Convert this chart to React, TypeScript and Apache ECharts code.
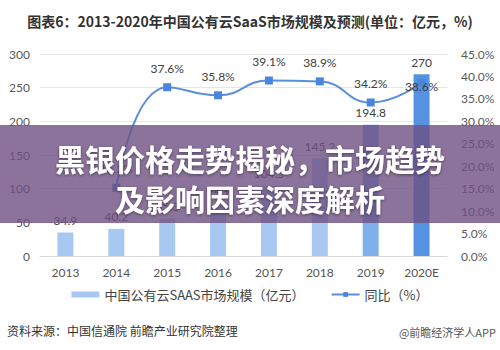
import React, { useEffect, useRef } from "react";
import * as echarts from "echarts";

const categories = ["2013", "2014", "2015", "2016", "2017", "2018", "2019", "2020E"];
const marketSize = [34.9, 40.2, 55.3, 75.1, 104.5, 145.2, 194.8, 270];
const growth: (number | null)[] = [null, 15.2, 37.6, 35.8, 39.1, 38.9, 34.2, 38.6];
const barColors = ["#a7c9f1", "#a7c9f1", "#a7c9f1", "#a7c9f1", "#a7c9f1", "#a7c9f1", "#7fb0ec", "#5592e2"];
const leftTicks = { min: 0, max: 300, interval: 50 };
const rightTicks = { min: 0, max: 45, interval: 5 };

const titleText = "图表6：2013-2020年中国公有云SaaS市场规模及预测(单位：亿元，%)";
const barName = "中国公有云SAAS市场规模（亿元）";
const lineName = "同比（%）";
const bannerLine1 = "黑银价格走势揭秘，市场趋势";
const bannerLine2 = "及影响因素深度解析";
const sourceText = "资料来源：中国信通院 前瞻产业研究院整理";
const brandText = "@前瞻经济学人APP";

const FONT = "Lato, 'Noto Sans CJK SC', sans-serif";
const CJK = "'Noto Sans CJK SC', sans-serif";

export default function App() {
  const ref = useRef<HTMLDivElement>(null);
  useEffect(() => {
    if (!ref.current) return;
    const chart = echarts.init(ref.current, undefined, { renderer: "svg" });
    const bannerText = (text: string, y: number) => ({
      type: "text",
      x: 250,
      y,
      z: 101,
      style: {
        text,
        fill: "#ffffff",
        fontSize: 30,
        fontWeight: "bold",
        fontFamily: CJK,
        align: "center",
        verticalAlign: "middle",
        textShadowColor: "rgba(0,0,0,0.45)",
        textShadowBlur: 3,
        textShadowOffsetY: 1,
      },
    });
    chart.setOption({
      animation: false,
      backgroundColor: "#ffffff",
      textStyle: { fontFamily: FONT },
      title: {
        text: titleText,
        left: "center",
        top: 9,
        textStyle: { fontSize: 14, fontWeight: "bold", color: "#333333", fontFamily: CJK },
      },
      grid: { left: 40, right: 53, top: 54, bottom: 94 },
      legend: {
        bottom: 44,
        left: "center",
        itemGap: 26,
        itemWidth: 28,
        itemHeight: 6,
        textStyle: { fontSize: 13, color: "#444444", fontFamily: CJK },
        data: [
          { name: barName, icon: "rect", itemStyle: { color: "#a7c9f1" } },
          { name: lineName },
        ],
      },
      xAxis: {
        type: "category",
        data: categories,
        axisLine: { lineStyle: { color: "#d9d9d9" } },
        axisTick: { show: false },
        axisLabel: { color: "#555555", fontSize: 12, margin: 10 },
      },
      yAxis: [
        {
          type: "value",
          ...leftTicks,
          axisLine: { show: false },
          axisTick: { show: false },
          axisLabel: { color: "#595959", fontSize: 12, margin: 10 },
          splitLine: { lineStyle: { color: "#e6e6e6" } },
        },
        {
          type: "value",
          ...rightTicks,
          axisLine: { show: false },
          axisTick: { show: false },
          splitLine: { show: false },
          axisLabel: {
            color: "#595959",
            fontSize: 12,
            margin: 14,
            formatter: (v: number) => v.toFixed(1) + "%",
          },
        },
      ],
      series: [
        {
          name: barName,
          type: "bar",
          barWidth: 16,
          yAxisIndex: 0,
          itemStyle: { color: "#a7c9f1" },
          data: marketSize.map((v, i) => ({ value: v, itemStyle: { color: barColors[i] } })),
          label: { show: true, position: "top", distance: 6, color: "#404040", fontSize: 12 },
          z: 2,
        },
        {
          name: lineName,
          type: "line",
          yAxisIndex: 1,
          smooth: true,
          symbol: "rect",
          symbolSize: 8,
          connectNulls: false,
          lineStyle: { color: "#5b8fd8", width: 2 },
          itemStyle: { color: "#4a86e0" },
          data: growth.map((v, i) =>
            i === growth.length - 1
              ? { value: v, label: { position: "inside", offset: [0, 4] } }
              : { value: v }
          ),
          label: {
            show: true,
            position: "top",
            distance: 9,
            color: "#404040",
            fontSize: 12,
            formatter: (p: any) => (p.value == null ? "" : Number(p.value).toFixed(1) + "%"),
          },
          z: 3,
        },
      ],
      graphic: [
        {
          type: "rect",
          shape: { x: 0, y: 125, width: 500, height: 98 },
          style: { fill: "rgba(110,80,130,0.8)" },
          z: 100,
        },
        bannerText(bannerLine1, 158),
        bannerText(bannerLine2, 198),
        {
          type: "text",
          x: 7,
          y: 330,
          style: {
            text: sourceText,
            fill: "#333333",
            fontSize: 12,
            fontFamily: CJK,
            verticalAlign: "middle",
          },
        },
        {
          type: "text",
          x: 496,
          y: 332,
          style: {
            text: brandText,
            fill: "#555555",
            fontSize: 11,
            fontFamily: CJK,
            align: "right",
            verticalAlign: "middle",
          },
        },
      ],
    });
    return () => chart.dispose();
  }, []);
  return (
    <div
      ref={ref}
      style={{ position: "fixed", left: 0, top: 0, width: 500, height: 350, background: "#fff" }}
    />
  );
}
